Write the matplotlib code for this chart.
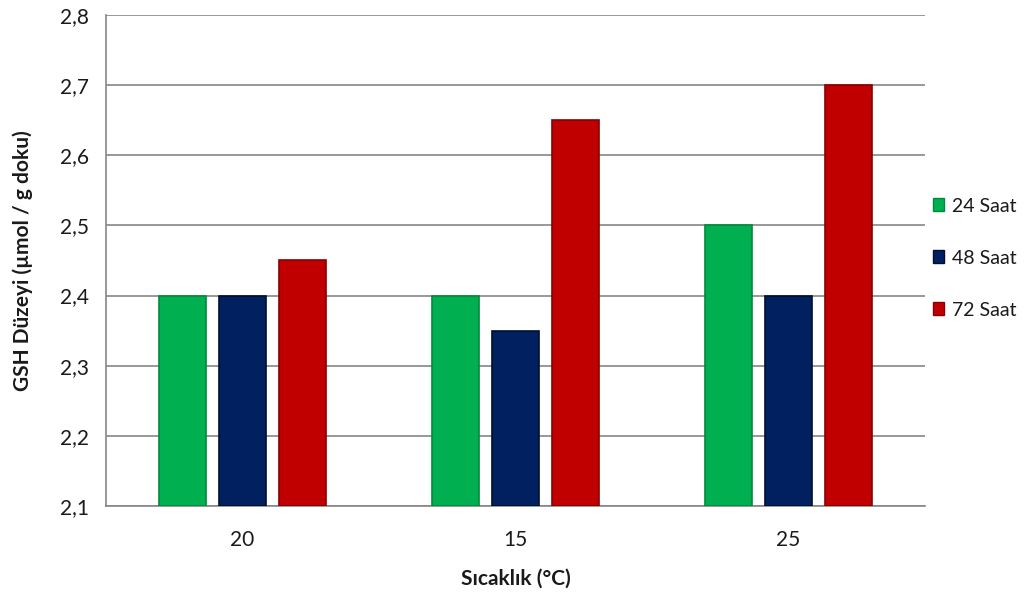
import matplotlib.pyplot as plt
import numpy as np
from matplotlib.patches import Patch

plt.rcParams['font.family'] = ['Lato', 'DejaVu Sans']

categories = ['20', '15', '25']
series = ['24 Saat', '48 Saat', '72 Saat']
v24 = [2.40, 2.40, 2.50]
v48 = [2.40, 2.35, 2.40]
v72 = [2.45, 2.65, 2.70]
yticks = [2.1, 2.2, 2.3, 2.4, 2.5, 2.6, 2.7, 2.8]

COLORS = ['#00b050', '#002060', '#c00000']
EDGES = ['#008a3c', '#000f30', '#8a0000']
TXT = '#1a1a1a'

fig = plt.figure(figsize=(10.35, 5.92), dpi=100)
ax = fig.add_axes([0.1024, 0.1453, 0.7913, 0.8294])

x = np.arange(len(categories))
width = 0.172
step = 0.22
base = 2.1
for i, vals in enumerate([v24, v48, v72]):
    ax.bar(x + (i - 1) * step, np.array(vals) - base, width, bottom=base,
           color=COLORS[i], edgecolor=EDGES[i], linewidth=1.2, zorder=3)

ax.set_xlim(-0.5, 2.5)
ax.set_ylim(2.1, 2.8)
ax.set_yticks(yticks)
ax.set_yticklabels([f'{t:.1f}'.replace('.', ',') for t in yticks], fontsize=15, color=TXT)
ax.set_xticks(x)
ax.set_xticklabels(categories, fontsize=15, color=TXT)
ax.tick_params(axis='y', length=0, pad=12)
ax.tick_params(axis='x', length=0, pad=17)
ax.yaxis.grid(True, color='#868686', linewidth=1.2, zorder=0)

for s in ['top', 'right']:
    ax.spines[s].set_visible(False)
ax.spines['left'].set_color('#868686')
ax.spines['left'].set_linewidth(1.2)
ax.spines['bottom'].set_color('#868686')
ax.spines['bottom'].set_linewidth(1.2)

ax.set_xlabel('Sıcaklık (°C)', fontsize=15, fontweight='bold', labelpad=14, color=TXT)
ax.set_ylabel('GSH Düzeyi (µmol / g doku)', fontsize=15, fontweight='bold', labelpad=20, color=TXT)

handles = [Patch(facecolor=COLORS[i], edgecolor=EDGES[i], label=series[i]) for i in range(3)]
ax.legend(handles=handles, loc='center left', bbox_to_anchor=(1.0, 0.505),
          frameon=False, fontsize=14, handlelength=0.6, handleheight=0.6,
          handletextpad=0.4, labelspacing=1.8, labelcolor=TXT,
          borderaxespad=0.2, borderpad=0.2)

plt.savefig('out.png')
